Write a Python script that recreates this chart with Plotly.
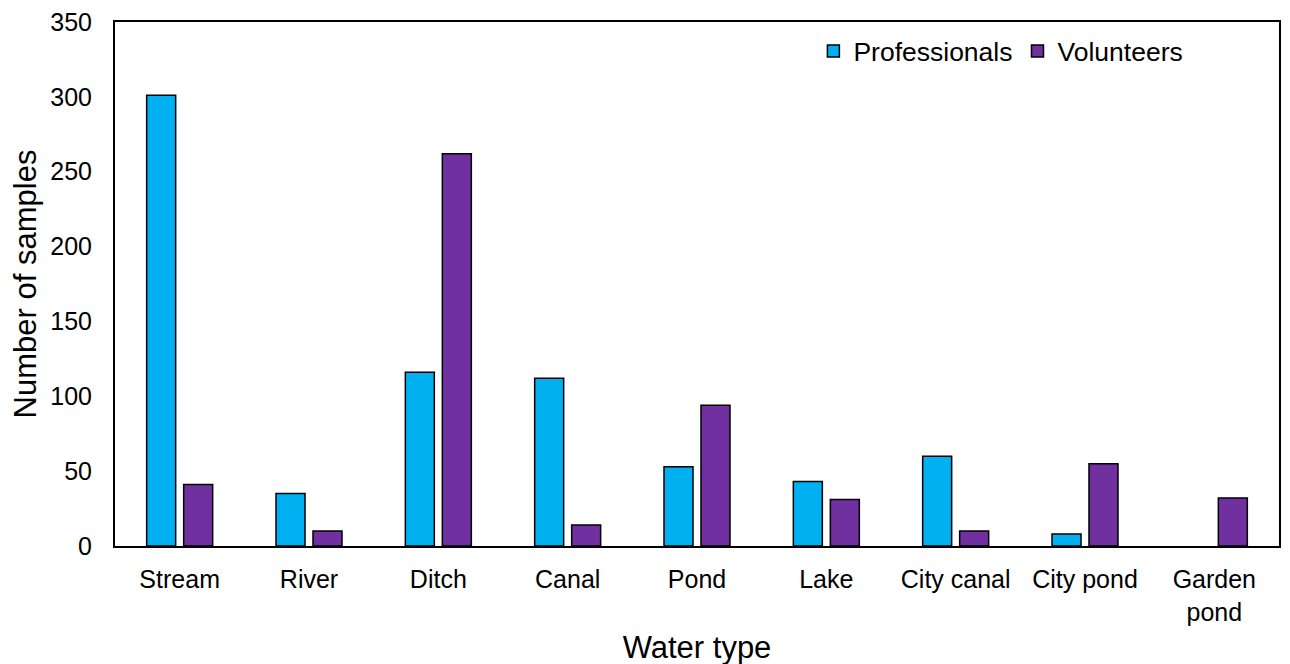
import plotly.graph_objects as go

categories = ["Stream", "River", "Ditch", "Canal", "Pond", "Lake", "City canal", "City pond", "Garden<br>pond"]
professionals = [301, 35, 116, 112, 53, 43, 60, 8, 0]
volunteers = [41, 10, 262, 14, 94, 31, 10, 55, 32]
y_ticks = [0, 50, 100, 150, 200, 250, 300, 350]

font_family = "Liberation Sans, Arial, sans-serif"


def outline_widths(values):
    return [1.5 if v > 0 else 0 for v in values]


fig = go.Figure()
fig.add_trace(go.Bar(name="Professionals", x=categories, y=professionals,
                     marker=dict(color="#00B0F0",
                                 line=dict(color="black", width=outline_widths(professionals)))))
fig.add_trace(go.Bar(name="Volunteers", x=categories, y=volunteers,
                     marker=dict(color="#7030A0",
                                 line=dict(color="black", width=outline_widths(volunteers)))))

fig.update_layout(
    width=1290, height=664,
    barmode="group", bargap=0.428, bargroupgap=0.216,
    plot_bgcolor="white", paper_bgcolor="white",
    margin=dict(l=107, r=19, t=14, b=126, autoexpand=False),
    font=dict(family=font_family, color="black", size=25),
    legend=dict(orientation="h", x=0.6, y=0.99, xanchor="left", yanchor="top",
                font=dict(size=26.5), bgcolor="rgba(0,0,0,0)", itemwidth=30,
                tracegroupgap=0),
    showlegend=True,
)
fig.update_xaxes(
    title=dict(text="Water type", font=dict(size=31), standoff=12),
    showline=True, linecolor="black", linewidth=2, mirror=True,
    ticks="", tickfont=dict(size=25), showgrid=False, ticklabelstandoff=10,
    automargin=False, ticklabeloverflow="allow",
)
fig.update_yaxes(
    title=dict(text="Number of samples", font=dict(size=31), standoff=8),
    range=[0, 350], tickvals=y_ticks,
    showline=True, linecolor="black", linewidth=2, mirror=True,
    ticks="", tickfont=dict(size=25), showgrid=False, zeroline=False,
    ticklabelstandoff=16, automargin=False, ticklabeloverflow="allow",
)

fig.write_html("out.html")
